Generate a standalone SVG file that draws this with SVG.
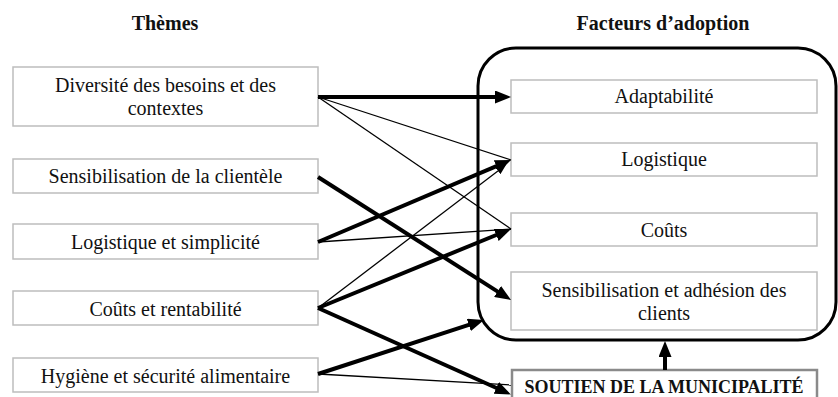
<svg xmlns="http://www.w3.org/2000/svg" width="838" height="397" viewBox="0 0 838 397">
<defs>
<style>
.box{fill:#fff;stroke:#bdbdbd;stroke-width:1.5}
.t{font-family:"Liberation Serif","Times New Roman",serif;font-size:20px;fill:#111;text-anchor:middle}
.h{font-family:"Liberation Serif","Times New Roman",serif;font-size:20px;font-weight:bold;fill:#111;text-anchor:middle}
.thick{stroke:#000;stroke-width:4;fill:none;marker-end:url(#ah)}
.thin{stroke:#000;stroke-width:1.3;fill:none}
</style>
<marker id="ah" markerUnits="userSpaceOnUse" markerWidth="16" markerHeight="13" refX="4" refY="6.5" orient="auto">
<path d="M0,0 L16,6.5 L0,13 z" fill="#000"/>
</marker>
<marker id="ahs" markerUnits="userSpaceOnUse" markerWidth="10" markerHeight="8" refX="4" refY="4" orient="auto">
<path d="M0,0 L10,4 L0,8 z" fill="#000"/>
</marker>
</defs>
<rect width="838" height="397" fill="#fff"/>
<text class="h" x="165" y="30">Thèmes</text>
<text class="h" x="663" y="30">Facteurs d’adoption</text>
<g id="facteurs-cadre">
<rect x="478" y="48" width="358" height="292" rx="38" ry="38" fill="none" stroke="#000" stroke-width="3"/>
</g>
<g id="theme-diversite">
<rect class="box" x="13" y="67" width="305" height="59"/>
<text class="t" x="165.5" y="92">Diversité des besoins et des</text>
<text class="t" x="165.5" y="115">contextes</text>
</g>
<g id="theme-sensibilisation">
<rect class="box" x="13" y="159" width="305" height="34"/>
<text class="t" x="165.5" y="183">Sensibilisation de la clientèle</text>
</g>
<g id="theme-logistique">
<rect class="box" x="13" y="224" width="305" height="35"/>
<text class="t" x="165.5" y="249">Logistique et simplicité</text>
</g>
<g id="theme-couts">
<rect class="box" x="13" y="291" width="305" height="34"/>
<text class="t" x="165.5" y="316">Coûts et rentabilité</text>
</g>
<g id="theme-hygiene">
<rect class="box" x="13" y="358" width="305" height="34"/>
<text class="t" x="165.5" y="383">Hygiène et sécurité alimentaire</text>
</g>
<g id="f-adaptabilite">
<rect class="box" x="511" y="80" width="306" height="33"/>
<text class="t" x="664" y="103">Adaptabilité</text>
</g>
<g id="f-logistique">
<rect class="box" x="511" y="143" width="306" height="33"/>
<text class="t" x="664" y="166">Logistique</text>
</g>
<g id="f-couts">
<rect class="box" x="511" y="213" width="306" height="33"/>
<text class="t" x="664" y="237">Coûts</text>
</g>
<g id="f-sensibilisation">
<rect class="box" x="511" y="272" width="306" height="58"/>
<text class="t" x="664" y="297">Sensibilisation et adhésion des</text>
<text class="t" x="664" y="320">clients</text>
</g>
<g id="soutien">
<rect x="512" y="370" width="305" height="40" fill="#fff" stroke="#8a8a8a" stroke-width="2.5"/>
<text class="h" x="664" y="393" style="font-size:18px">SOUTIEN DE LA MUNICIPALITÉ</text>
</g>
<g id="connectors">
<line class="thin" x1="318" y1="97" x2="511" y2="160"/>
<line class="thin" x1="318" y1="97" x2="511" y2="229"/>
<line class="thin" x1="318" y1="242" x2="511" y2="229"/>
<line class="thin" x1="318" y1="374" x2="511" y2="385"/>
<line class="thin" x1="318" y1="308" x2="501.2" y2="168.6" marker-end="url(#ahs)"/>
<line class="thick" x1="318" y1="97" x2="499" y2="97"/>
<line class="thick" x1="318" y1="177" x2="500.9" y2="293.6"/>
<line class="thick" x1="318" y1="242" x2="500" y2="164.7"/>
<line class="thick" x1="318" y1="308" x2="499.9" y2="233.5"/>
<line class="thick" x1="318" y1="308" x2="499.9" y2="389.5"/>
<line class="thick" x1="318" y1="374" x2="472.6" y2="323.7"/>
<line class="thick" x1="665" y1="370" x2="665" y2="353"/>
</g>
</svg>
